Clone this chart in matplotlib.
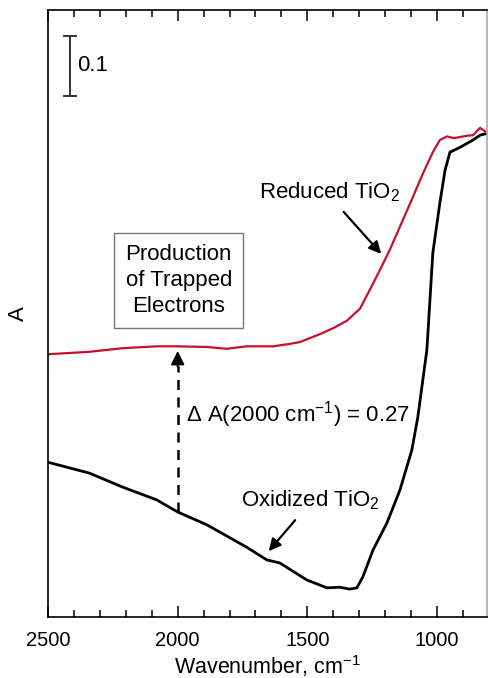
import matplotlib
matplotlib.use("Agg")
import matplotlib.pyplot as plt
from matplotlib.ticker import MultipleLocator

plt.rcParams['font.family'] = ['Liberation Sans', 'DejaVu Sans']
plt.rcParams['mathtext.fontset'] = 'custom'
plt.rcParams['mathtext.rm'] = 'Liberation Sans'

# oxidized TiO2 spectrum (wavenumber, absorbance offset)
wn_ox = [2500, 2340, 2212, 2081, 2000, 1888, 1734, 1656, 1606, 1502, 1424, 1375,
         1336, 1309, 1286, 1247, 1193, 1143, 1097, 1074, 1039, 1016, 989, 969,
         950, 911, 861, 834, 807]
a_ox = [0.255, 0.237, 0.214, 0.193, 0.173, 0.152, 0.115, 0.094, 0.089, 0.061,
        0.048, 0.049, 0.046, 0.048, 0.066, 0.110, 0.155, 0.209, 0.275, 0.329,
        0.440, 0.600, 0.682, 0.736, 0.766, 0.774, 0.786, 0.794, 0.797]

# reduced TiO2 spectrum
wn_red = [2500, 2340, 2212, 2081, 2000, 1888, 1811, 1734, 1633, 1568, 1529, 1452,
          1400, 1348, 1297, 1259, 1220, 1182, 1143, 1093, 1054, 1016, 989, 961,
          935, 911, 885, 861, 834, 803]
a_red = [0.433, 0.437, 0.443, 0.446, 0.446, 0.445, 0.442, 0.446, 0.446, 0.450,
         0.453, 0.466, 0.476, 0.488, 0.508, 0.539, 0.572, 0.605, 0.643, 0.692,
         0.731, 0.766, 0.786, 0.792, 0.789, 0.791, 0.793, 0.794, 0.806, 0.797]

wn_mark = 2000
dA = 0.27
fs = 16
fs_tick = 14.5

fig = plt.figure(figsize=(4.88, 6.78), dpi=100)
ax = fig.add_axes([0.0984, 0.090, 0.8996, 0.895])

ax.plot(wn_ox, a_ox, color='black', lw=2.0)
ax.plot(wn_red, a_red, color='#c8102e', lw=1.6)

ax.set_xlim(2500, 807)
ax.set_ylim(0, 1.0)
ax.xaxis.set_major_locator(MultipleLocator(500))
ax.xaxis.set_minor_locator(MultipleLocator(100))
ax.tick_params(axis='x', which='both', direction='in', top=True,
               labelsize=fs_tick, width=1.1, pad=10)
ax.tick_params(axis='x', which='major', length=8)
ax.tick_params(axis='x', which='minor', length=5)
ax.set_yticks([])
for s in ax.spines.values():
    s.set_linewidth(1.2)
ax.spines['right'].set_color('#aaaaaa')
ax.set_xlabel('Wavenumber, cm$^{-1}$', fontsize=15.5, labelpad=2)
ax.set_ylabel('A', fontsize=fs, labelpad=14)

# 0.1 scale bar
ax.plot([2417, 2417], [0.858, 0.958], color='#333333', lw=1.4)
for yb in (0.858, 0.958):
    ax.plot([2394, 2440], [yb, yb], color='#333333', lw=1.4)
ax.text(2386, 0.909, '0.1', fontsize=fs, va='center', ha='left')

# difference at 2000 cm-1
a_ox_2000 = a_ox[wn_ox.index(wn_mark)]
a_top = a_ox_2000 + dA
ax.plot([wn_mark, wn_mark], [a_ox_2000, a_top - 0.03], color='black', lw=1.8,
        dashes=(4, 3))
ax.annotate('', xy=(wn_mark, a_top), xytext=(wn_mark, a_top - 0.035),
            arrowprops=dict(arrowstyle='-|>', color='black', lw=1.5,
                            mutation_scale=20))
ax.text(1969, 0.333, 'Δ A(2000 cm$^{-1}$) = 0.27', fontsize=fs,
        ha='left', va='center')

ax.text(1996, 0.555, 'Production\nof Trapped\nElectrons', fontsize=fs,
        ha='center', va='center', linespacing=1.3,
        bbox=dict(boxstyle='square,pad=0.5', fc='white', ec='#777777', lw=1.0))

arrow = dict(arrowstyle='-|>', color='black', lw=1.6, mutation_scale=18)
ax.annotate('', xy=(1208, 0.595), xytext=(1367, 0.671), arrowprops=arrow)
ax.text(1413, 0.700, 'Reduced TiO$_2$', fontsize=fs, ha='center', va='center')
ax.annotate('', xy=(1656, 0.105), xytext=(1540, 0.163), arrowprops=arrow)
ax.text(1490, 0.192, 'Oxidized TiO$_2$', fontsize=fs, ha='center', va='center')

fig.savefig('out.png', dpi=100)
